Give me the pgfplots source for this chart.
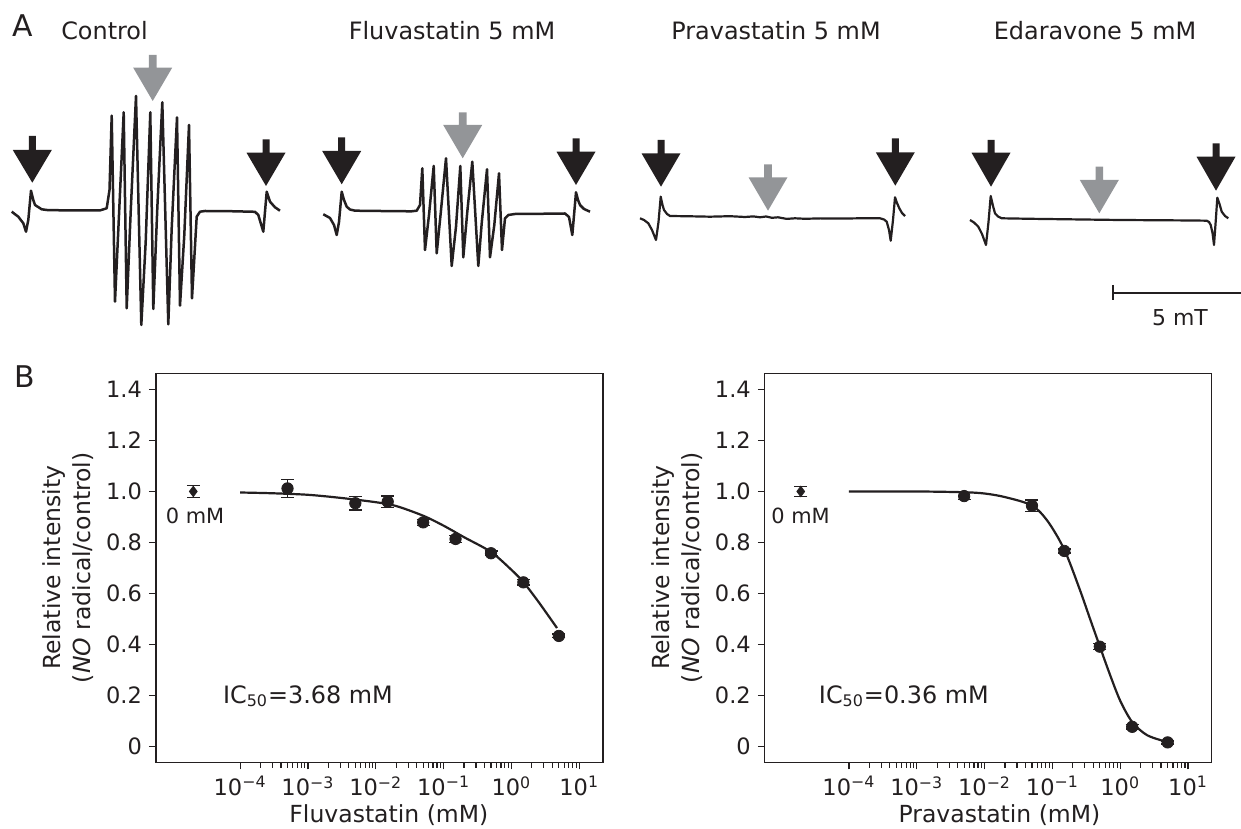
\documentclass[border=0pt]{standalone}
\usepackage{pgfplots}
\pgfplotsset{compat=1.18}
\usepackage{fontspec}
\setmainfont{DejaVu Sans}
\definecolor{ink}{HTML}{231F20}
\definecolor{arrowgray}{HTML}{939598}

\begin{document}
\begin{tikzpicture}[font=\fontsize{11}{13}\selectfont, text=ink]
% ---------------- Panel A (pixel coordinates) ----------------
\begin{axis}[name=base, at={(0,0)}, anchor=south west, scale only axis,
  width=620.5bp, height=414.5bp, xmin=0, xmax=1241, ymin=0, ymax=829,
  y dir=reverse, hide axis, clip=false]
% spectra
\addplot[ink, line width=1.25bp, line join=round] coordinates {
(11.7,211.7) (18.3,216.7) (23.3,223.3) (26,231.7) (28.3,220) (31,190.7) (33.3,200) (35,205) (41.7,209.3) (46.7,210) (70,210.5) (90,210.3) (100,210.4) (106.7,208.3) (109.5,190) (111.7,115.7) (115,301.7) (119,215) (123.7,112.3) (126.7,308.3) (130.7,211.7) (136,96) (141.3,325) (145.7,241.7) (150.3,112.3) (153.3,309) (157.3,208.3) (162.3,102.3) (168.3,324.3) (171.7,228.3) (177,117.3) (180,305.7) (184.3,235) (189,125) (192,298.3) (196.7,216.7) (200,211.7) (205,211) (230,211.2) (255,211.8) (258.3,215) (263.3,231.7) (266.7,191.7) (270,201.7) (275,207.3) (280,210.7)};
\addplot[ink, line width=1.25bp, line join=round] coordinates {
(323.3,214.3) (330,218) (334,225) (336.7,235) (339,222) (341.7,191.7) (344,200) (346.7,206.7) (350,209.5) (355,210.7) (380,211) (405,211.2) (410,211.5) (416.7,210.7) (420,205) (422.3,168.3) (425,250) (429,215) (433.7,166) (436.7,253.3) (440.7,213.3) (446,158.3) (451.7,266) (456,226.7) (460.3,166) (463.3,257.3) (467.3,211.7) (472.3,161.7) (478.3,266) (481.7,223.3) (487,169.3) (490,257.3) (494.3,225) (499,173.3) (502,250) (505,218.3) (508.3,215) (515,214) (540,213.8) (565,213.5) (569,217) (572.3,235) (576,192.3) (578,200) (580,205) (584,209) (590,211.7)};
\addplot[ink, line width=1.1bp, line join=round] coordinates {
(640,218.3) (644,220) (648.3,223.3) (652,230) (656,240) (658.5,222) (660.7,196.7) (662.5,205) (664,210) (667,214) (670,216) (690,216.3) (710,216.7) (730,216.2) (745,217) (753.3,216.4) (760,217.3) (766,216.5) (772,217.8) (778,217.3) (786.7,218.9) (795,218.3) (805,218.8) (820,218.4) (840,218.6) (860,218.3) (880,218.3) (884,219.5) (886.7,221.7) (889,230) (890.7,240.7) (893,220) (895,197.3) (897,203) (899.3,208.3) (902,213) (905,216)};
\addplot[ink, line width=1.1bp, line join=round] coordinates {
(970,220) (974,222.5) (978.3,226.7) (982,234) (986,245) (988.5,222) (990.7,196) (993,206) (995,213.3) (998,216.5) (1001.7,218.3) (1030,218.8) (1060,219.2) (1090,219.6) (1120,220) (1150,220.2) (1180,220.4) (1200,220.6) (1206.7,220.7) (1209,222) (1210.7,225) (1212.5,233) (1214,245) (1215.8,220) (1217.3,197.7) (1219.5,204) (1221.7,211.7) (1225,216) (1228.3,218.3)};
% arrows
\addplot[fill=ink, draw=none] coordinates {(28.8,136) (35.8,136) (35.8,150) (51.8,150) (32.3,182.7) (12.8,150) (28.8,150)} -- cycle;
\addplot[fill=ink, draw=none] coordinates {(262.5,139.3) (269.5,139.3) (269.5,152.7) (285.5,152.7) (266,186) (246.5,152.7) (262.5,152.7)} -- cycle;
\addplot[fill=arrowgray, draw=none] coordinates {(148.9,55) (156.5,55) (156.5,67.7) (172.2,67.7) (152.7,101) (133.2,67.7) (148.9,67.7)} -- cycle;
\addplot[fill=ink, draw=none] coordinates {(338.2,137.3) (345.2,137.3) (345.2,151) (361.2,151) (341.7,184.3) (322.2,151) (338.2,151)} -- cycle;
\addplot[fill=ink, draw=none] coordinates {(572.5,138.3) (579.5,138.3) (579.5,151.7) (595.5,151.7) (576,185) (556.5,151.7) (572.5,151.7)} -- cycle;
\addplot[fill=arrowgray, draw=none] coordinates {(458.9,112.3) (466.5,112.3) (466.5,125) (482.2,125) (462.7,158.3) (443.2,125) (458.9,125)} -- cycle;
\addplot[fill=ink, draw=none] coordinates {(657.5,140) (664.5,140) (664.5,153.3) (680.5,153.3) (661,186.7) (641.5,153.3) (657.5,153.3)} -- cycle;
\addplot[fill=ink, draw=none] coordinates {(891.8,138.3) (898.8,138.3) (898.8,152.3) (914.8,152.3) (895.3,185.7) (875.8,152.3) (891.8,152.3)} -- cycle;
\addplot[fill=arrowgray, draw=none] coordinates {(764.2,164.3) (771.8,164.3) (771.8,177.3) (787.5,177.3) (768,210.7) (748.5,177.3) (764.2,177.3)} -- cycle;
\addplot[fill=ink, draw=none] coordinates {(987.5,140) (994.5,140) (994.5,152.7) (1010.5,152.7) (991,186.7) (971.5,152.7) (987.5,152.7)} -- cycle;
\addplot[fill=ink, draw=none] coordinates {(1212.5,143.3) (1219.5,143.3) (1219.5,156.7) (1235.5,156.7) (1216,190.7) (1196.5,156.7) (1212.5,156.7)} -- cycle;
\addplot[fill=arrowgray, draw=none] coordinates {(1095.5,166.7) (1103.1,166.7) (1103.1,180) (1118.8,180) (1099.3,213.3) (1079.8,180) (1095.5,180)} -- cycle;
% scale bar
\addplot[ink, line width=1bp] coordinates {(1113,293) (1241,293)};
\addplot[ink, line width=1bp] coordinates {(1113,285) (1113,300.5)};
\node[anchor=center, font=\fontsize{11}{13}\selectfont] at (axis cs:1180,318) {5 mT};
% titles
\node[anchor=base, font=\fontsize{15}{17}\selectfont] at (axis cs:23,37) {A};
\node[anchor=base, font=\fontsize{15}{17}\selectfont] at (axis cs:25,388) {B};
\node[anchor=base, font=\fontsize{12}{14}\selectfont] at (axis cs:104.5,40) {Control};
\node[anchor=base, font=\fontsize{12}{14}\selectfont] at (axis cs:452,40) {Fluvastatin 5 mM};
\node[anchor=base, font=\fontsize{12}{14}\selectfont] at (axis cs:776,40) {Pravastatin 5 mM};
\node[anchor=base, font=\fontsize{12}{14}\selectfont] at (axis cs:1095,40) {Edaravone 5 mM};
\coordinate (SW) at (axis cs:0,829);
\coordinate (NE) at (axis cs:1241,0);
\coordinate (BL) at (axis cs:156,762.3);
\coordinate (BR) at (axis cs:764.8,762.3);
\end{axis}

% ---------------- Panel B left ----------------
\begin{axis}[at={(BL)}, anchor=south west,
  xmode=log,
  scale only axis, width=223.5bp, height=194.5bp,
  xmin=5.754e-6, xmax=22.39, ymin=-0.061, ymax=1.463,
  xtick={1e-4,1e-3,1e-2,1e-1,1,10},
  xticklabels={10\textsuperscript{−4},10\textsuperscript{−3},10\textsuperscript{−2},10\textsuperscript{−1},10\textsuperscript{0},10\textsuperscript{1}},
  minor tick num=0,
  ytick={0,0.2,0.4,0.6,0.8,1.0,1.2,1.4},
  yticklabels={0,0.2,0.4,0.6,0.8,1.0,1.2,1.4},
  tick align=outside, tick pos=left, major tick length=3.5bp,
  axis line style={ink, line width=0.6pt}, tick style={ink, line width=0.6pt},
  ticklabel style={font=\fontsize{11.3}{13}\selectfont, text=ink},
  label style={font=\fontsize{11.8}{15}\selectfont, text=ink},
  ylabel={Relative intensity\\(\textit{NO} radical/control)},
  ylabel style={align=center, at={(axis description cs:-0.197,0.5)}, anchor=center},
  clip=false,
  xlabel={Fluvastatin (mM)},
  xlabel style={at={(axis description cs:0.521,0)}, anchor=center, yshift=-26.4bp}]
\addplot[ink, line width=1.1bp, smooth] coordinates {
(1e-4,0.996) (3e-4,0.993) (1e-3,0.987) (3e-3,0.975) (1e-2,0.958) (2e-2,0.943) (5e-2,0.905) (0.1,0.866) (0.2,0.821) (0.5,0.763) (1,0.693) (1.5,0.645) (2.5,0.568) (4.7,0.465)};
\addplot[only marks, mark=*, mark size=2.85bp, ink, mark options={fill=ink},
  error bars/.cd, y dir=both, y explicit,
  error bar style={line width=0.7bp, ink}, error mark options={rotate=90, mark size=3.25bp, line width=0.7bp, ink}]
  coordinates {
  (5e-4,1.012) +- (0,0.035)
  (5e-3,0.954) +- (0,0.026)
  (1.5e-2,0.960) +- (0,0.023)
  (5e-2,0.879) +- (0,0.012)
  (0.15,0.814) +- (0,0.013)
  (0.5,0.758) +- (0,0.009)
  (1.5,0.644) +- (0,0.010)
  (5,0.434) +- (0,0.007)};
\addplot[only marks, mark=diamond*, mark size=2.6bp, ink, mark options={fill=ink},
  error bars/.cd, y dir=both, y explicit,
  error bar style={line width=0.7bp, ink}, error mark options={rotate=90, mark size=3.25bp, line width=0.7bp, ink}]
  coordinates {(2.04e-5,1.0) +- (0,0.023)};
\node[anchor=base, font=\fontsize{10.5}{12}\selectfont] at (axis cs:2.17e-5,0.876) {0 mM};
\node[anchor=base, font=\fontsize{12}{14}\selectfont] at (axis cs:1e-3,0.171) {IC\textsubscript{50}=3.68 mM};
\end{axis}

% ---------------- Panel B right ----------------
\begin{axis}[at={(BR)}, anchor=south west,
  xmode=log,
  scale only axis, width=223.5bp, height=194.5bp,
  xmin=5.754e-6, xmax=22.39, ymin=-0.061, ymax=1.463,
  xtick={1e-4,1e-3,1e-2,1e-1,1,10},
  xticklabels={10\textsuperscript{−4},10\textsuperscript{−3},10\textsuperscript{−2},10\textsuperscript{−1},10\textsuperscript{0},10\textsuperscript{1}},
  minor tick num=0,
  ytick={0,0.2,0.4,0.6,0.8,1.0,1.2,1.4},
  yticklabels={0,0.2,0.4,0.6,0.8,1.0,1.2,1.4},
  tick align=outside, tick pos=left, major tick length=3.5bp,
  axis line style={ink, line width=0.6pt}, tick style={ink, line width=0.6pt},
  ticklabel style={font=\fontsize{11.3}{13}\selectfont, text=ink},
  label style={font=\fontsize{11.8}{15}\selectfont, text=ink},
  ylabel={Relative intensity\\(\textit{NO} radical/control)},
  ylabel style={align=center, at={(axis description cs:-0.197,0.5)}, anchor=center},
  clip=false,
  xlabel={Pravastatin (mM)},
  xlabel style={at={(axis description cs:0.525,0)}, anchor=center, yshift=-26.4bp}]
\addplot[ink, line width=1.1bp, smooth] coordinates {
(1e-4,1.0) (1e-3,1.0) (5e-3,0.997) (1e-2,0.992) (2e-2,0.978) (5e-2,0.945) (0.086,0.882) (0.15,0.772) (0.25,0.62) (0.36,0.50) (0.5,0.393) (0.7,0.285) (1.0,0.18) (1.5,0.097) (2.5,0.045) (5,0.018)};
\addplot[only marks, mark=*, mark size=2.85bp, ink, mark options={fill=ink},
  error bars/.cd, y dir=both, y explicit,
  error bar style={line width=0.7bp, ink}, error mark options={rotate=90, mark size=3.25bp, line width=0.7bp, ink}]
  coordinates {
  (5e-3,0.982) +- (0,0.013)
  (5e-2,0.944) +- (0,0.023)
  (0.15,0.767) +- (0,0.008)
  (0.5,0.392) +- (0,0.012)
  (1.5,0.078) +- (0,0.008)
  (5,0.017) +- (0,0.006)};
\addplot[only marks, mark=diamond*, mark size=2.6bp, ink, mark options={fill=ink},
  error bars/.cd, y dir=both, y explicit,
  error bar style={line width=0.7bp, ink}, error mark options={rotate=90, mark size=3.25bp, line width=0.7bp, ink}]
  coordinates {(1.95e-5,1.0) +- (0,0.02)};
\node[anchor=base, font=\fontsize{10.5}{12}\selectfont] at (axis cs:1.94e-5,0.876) {0 mM};
\node[anchor=base, font=\fontsize{12}{14}\selectfont] at (axis cs:6.46e-4,0.171) {IC\textsubscript{50}=0.36 mM};
\end{axis}

\pgfresetboundingbox
\path (SW) rectangle (NE);
\end{tikzpicture}
\end{document}
